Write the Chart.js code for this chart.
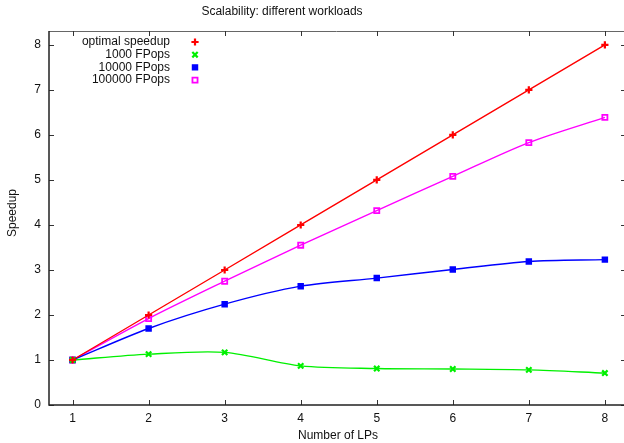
<!DOCTYPE html>
<html>
<head>
<meta charset="utf-8">
<script src="https://cdn.jsdelivr.net/npm/chart.js@4.4.0/dist/chart.umd.min.js"></script>
<style>
  html, body { margin: 0; padding: 0; background: #fff; overflow: hidden; }
  #wrap { width: 624px; height: 443px; position: relative; }
</style>
</head>
<body>
<div id="wrap"><canvas id="speedupChart" width="624" height="443"></canvas></div>
<script>
// number of LPs
var lps = [1, 2, 3, 4, 5, 6, 7, 8];
var xTicks = [1, 2, 3, 4, 5, 6, 7, 8];
var yTicks = [0, 1, 2, 3, 4, 5, 6, 7, 8];

var optimal = [1, 2, 3, 4, 5, 6, 7, 8];
var fp1000 = [1.0, 1.13, 1.17, 0.87, 0.81, 0.80, 0.78, 0.71];
var fp10000 = [1.0, 1.70, 2.24, 2.64, 2.82, 3.01, 3.19, 3.23];
var fp100000 = [1.0, 1.92, 2.75, 3.55, 4.32, 5.08, 5.83, 6.39];

var seriesNames = ['optimal speedup', '1000 FPops', '10000 FPops', '100000 FPops'];
var seriesColors = ['#ff0000', '#00f000', '#0000ff', '#ff00ff'];
var seriesPoints = ['cross', 'crossRot', 'rect', 'rect'];
var seriesFill = ['rgba(0,0,0,0)', 'rgba(0,0,0,0)', '#0000ff', 'rgba(0,0,0,0)'];
var seriesRadius = [3.6, 3.8, 3.5, 3.6];
var seriesPtWidth = [2.2, 2.2, 1.5, 1.8];

var FONT = '"Liberation Sans", Arial, sans-serif';

function toXY(vals) {
    return vals.map(function (v, i) { return { x: lps[i], y: v }; });
}

var allData = [optimal, fp1000, fp10000, fp100000];
var datasets = [];
for (var i = 0; i < allData.length; i++) {
    datasets.push({
        label: seriesNames[i],
        data: toXY(allData[i]),
        borderColor: seriesColors[i],
        backgroundColor: 'rgba(0,0,0,0)',
        pointBorderColor: seriesColors[i],
        pointBackgroundColor: seriesFill[i],
        pointStyle: seriesPoints[i],
        pointRadius: seriesRadius[i],
        pointBorderWidth: seriesPtWidth[i],
        borderWidth: 1.4,
        tension: i == 0 ? 0 : 0.3,
        fill: false
    });
}

// gnuplot-ish frame, mirror ticks, titles and legend
var gnuplotDecor = {
    id: 'gnuplotDecor',
    afterDraw: function (chart) {
        var ctx = chart.ctx;
        var a = chart.chartArea;
        var xs = chart.scales.x, ys = chart.scales.y;
        ctx.save();

        // top frame line
        ctx.strokeStyle = '#666';
        ctx.lineWidth = 1;
        ctx.beginPath();
        ctx.moveTo(a.left, Math.round(a.top) + 0.5);
        ctx.lineTo(624, Math.round(a.top) + 0.5);
        ctx.stroke();

        // ticks
        ctx.strokeStyle = '#333';
        ctx.lineWidth = 1;
        ctx.beginPath();
        xTicks.forEach(function (t) {
            var px = Math.round(xs.getPixelForValue(t)) + 0.5;
            ctx.moveTo(px, a.bottom); ctx.lineTo(px, a.bottom - 5);
            ctx.moveTo(px, a.top); ctx.lineTo(px, a.top + 5);
        });
        yTicks.forEach(function (t) {
            var py = Math.round(ys.getPixelForValue(t)) + 0.5;
            ctx.moveTo(a.left, py); ctx.lineTo(a.left + 5, py);
            ctx.moveTo(621, py); ctx.lineTo(624, py);
        });
        ctx.stroke();

        // left and bottom axes
        ctx.strokeStyle = '#222';
        ctx.lineWidth = 1.5;
        ctx.beginPath();
        ctx.moveTo(a.left, a.top);
        ctx.lineTo(a.left, a.bottom);
        ctx.lineTo(624, a.bottom);
        ctx.stroke();

        // titles
        ctx.fillStyle = '#111';
        ctx.font = '12px ' + FONT;
        ctx.textAlign = 'center';
        ctx.textBaseline = 'middle';
        ctx.fillText('Scalability: different workloads', 282, 12);
        ctx.fillText('Number of LPs', 338, 436);
        ctx.save();
        ctx.translate(13, 213);
        ctx.rotate(-Math.PI / 2);
        ctx.fillText('Speedup', 0, 0);
        ctx.restore();

        // legend: text right aligned, marker on the right
        ctx.textAlign = 'right';
        for (var i = 0; i < seriesNames.length; i++) {
            var ly = 42 + i * 12.7;
            ctx.fillStyle = '#111';
            ctx.fillText(seriesNames[i], 170, ly);
            ctx.strokeStyle = seriesColors[i];
            ctx.fillStyle = seriesFill[i];
            ctx.lineWidth = seriesPtWidth[i];
            Chart.helpers.drawPoint(ctx, {
                pointStyle: seriesPoints[i],
                radius: seriesRadius[i],
                rotation: 0,
                borderWidth: seriesPtWidth[i]
            }, 195, ly);
        }
        ctx.restore();
    }
};

var speedupChart = new Chart(document.getElementById('speedupChart').getContext('2d'), {
    type: 'line',
    data: { datasets: datasets },
    options: {
        responsive: false,
        animation: false,
        layout: { padding: { top: 31, right: 1, left: 0, bottom: 0 } },
        plugins: {
            legend: { display: false },
            title: { display: false },
            tooltip: { enabled: false }
        },
        scales: {
            x: {
                type: 'linear',
                min: 0.69,
                max: 8.17,
                afterBuildTicks: function (scale) {
                    scale.ticks = xTicks.map(function (v) { return { value: v }; });
                },
                afterFit: function (scale) { scale.height = 38; },
                grid: { display: false, drawTicks: false },
                border: { display: false },
                ticks: { padding: 6, color: '#111', font: { family: FONT, size: 12 } }
            },
            y: {
                type: 'linear',
                min: 0,
                max: 8.31,
                afterBuildTicks: function (scale) {
                    scale.ticks = yTicks.map(function (v) { return { value: v }; });
                },
                afterFit: function (scale) { scale.width = 49; },
                grid: { display: false, drawTicks: false },
                border: { display: false },
                ticks: { padding: 8, color: '#111', font: { family: FONT, size: 12 } }
            }
        }
    },
    plugins: [gnuplotDecor]
});
</script>
</body>
</html>
